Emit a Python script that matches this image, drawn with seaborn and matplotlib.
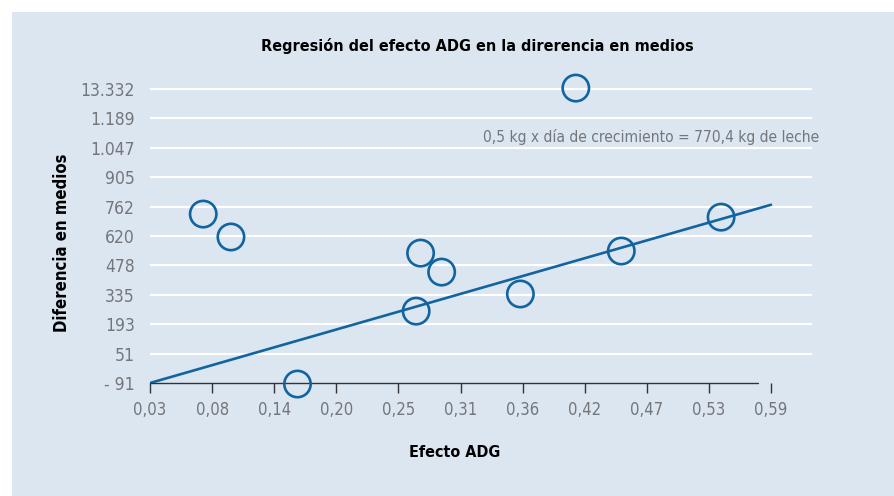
import matplotlib
matplotlib.use('Agg')
import matplotlib.pyplot as plt
import seaborn as sns
import pandas as pd
from matplotlib.patches import Rectangle

# data
efecto_adg = [0.078, 0.103, 0.163, 0.270, 0.274, 0.293, 0.364, 0.414, 0.455, 0.545]
diferencia = [727, 616, -96, 257, 538, 446, 340, 1337, 548, 712]
trend_x = [0.03, 0.59]
trend_y = [-91, 772]
x_ticks = [0.03, 0.086, 0.142, 0.198, 0.254, 0.31, 0.366, 0.422, 0.478, 0.534, 0.59]
x_labels = ['0,03', '0,08', '0,14', '0,20', '0,25', '0,31', '0,36', '0,42', '0,47', '0,53', '0,59']
y_ticks = [-91, 51.3, 193.6, 335.9, 478.2, 620.5, 762.8, 905.1, 1047.4, 1189.7, 1332]
y_labels = ['- 91', '51', '193', '335', '478', '620', '762', '905', '1.047', '1.189', '13.332']

BG = '#dce6f1'
BLUE = '#11649f'
GREY = '#74767a'

sns.set_style('white')
plt.rcParams['font.family'] = ['DejaVu Sans']
plt.rcParams['font.stretch'] = 'condensed'

df = pd.DataFrame({'x': efecto_adg, 'y': diferencia})

fig = plt.figure(figsize=(8.94, 4.96), dpi=100)
fig.patch.set_facecolor('white')
fig.patches.append(Rectangle((12 / 894, 0), 1, 1 - 12 / 496, transform=fig.transFigure,
                             facecolor=BG, edgecolor='none', zorder=-10))

ax = fig.add_axes([150 / 894, 113 / 496, (812 - 150) / 894, (496 - 113 - 75) / 496])
ax.set_facecolor(BG)

xmax = 0.03 + (812 - 150) * 0.56 / 621
ax.set_xlim(0.03, xmax)
ax.set_ylim(-91, 1332 + 142.3 * 0.48)

for yv in y_ticks[1:]:
    ax.axhline(yv, color='white', lw=1.6, zorder=1)
ax.plot([0.03, 0.578], [-91, -91], color='#333333', lw=1.0, zorder=2, clip_on=False)

sns.lineplot(x=trend_x, y=trend_y, ax=ax, color=BLUE, lw=1.9, zorder=3)
sns.scatterplot(data=df, x='x', y='y', ax=ax, s=360, facecolor='none',
                edgecolor=BLUE, linewidth=1.9, zorder=4, clip_on=False)

for s in ax.spines.values():
    s.set_visible(False)

ax.set_xticks(x_ticks)
ax.set_xticklabels(x_labels)
ax.set_yticks(y_ticks)
ax.set_yticklabels(y_labels)
ax.tick_params(axis='x', direction='out', length=7, width=1, color='#333333',
               labelsize=12, labelcolor=GREY, pad=6, bottom=True)
ax.tick_params(axis='y', length=0, labelsize=12.5, labelcolor=GREY, pad=11)

ax.set_xlabel('Efecto ADG', fontsize=11.5, fontweight='bold', color='black')
ax.xaxis.set_label_coords(0.46, -0.20)
ax.set_ylabel('Diferencia en medios', fontsize=12, fontweight='bold', color='black')
ax.yaxis.set_label_coords(-0.12, 0.455)

fig.text(477 / 894, 1 - 46 / 496, 'Regresión del efecto ADG en la direrencia en medios',
         ha='center', va='center', fontsize=11.6, fontweight='bold', color='black')
ax.text(0.482, 1100, '0,5 kg x día de crecimiento = 770,4 kg de leche', ha='center',
        va='center', fontsize=11.2, color=GREY)

fig.savefig('out.png', dpi=100, facecolor=fig.get_facecolor())
